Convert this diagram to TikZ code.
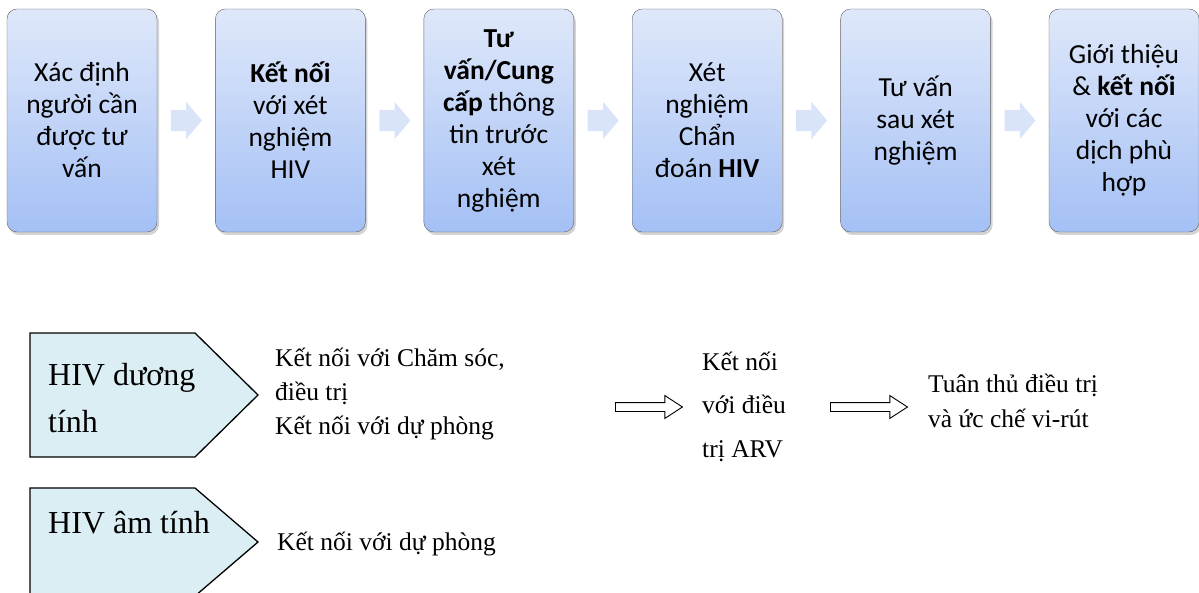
\documentclass[tikz,border=0pt]{standalone}
\usepackage{fontspec}
\setmainfont{Liberation Serif}
\newfontfamily\boxfont{Carlito}
\usetikzlibrary{positioning,shapes.arrows,shadows,calc}
\definecolor{boxtop}{RGB}{223,232,250}
\definecolor{boxbot}{RGB}{164,192,245}
\definecolor{boxline}{RGB}{95,95,95}
\definecolor{flowblue}{RGB}{218,228,249}
\definecolor{tagblue}{RGB}{219,238,243}

\begin{document}
\begin{tikzpicture}[
        x=1pt, y=-1pt,
        stepbox/.style={draw=boxline, rounded corners=10pt, top color=boxtop, bottom color=boxbot,
            minimum width=150pt, minimum height=223pt, inner sep=2pt, text width=146pt, align=flush center,
            font=\boxfont\fontsize{27.5}{32}\selectfont,
            drop shadow={shadow xshift=2pt, shadow yshift=-3pt, opacity=0.35}},
        flowarr/.style={single arrow, fill=flowblue, inner xsep=0pt, inner ysep=10.5pt,
            single arrow head extend=8pt, single arrow tip angle=100, minimum height=31pt, anchor=tail},
        hollowarr/.style={single arrow, draw, fill=white, line width=0.9pt, inner xsep=0pt, inner ysep=4pt,
            single arrow head extend=7pt, single arrow tip angle=66, anchor=tail},
        tag/.style={draw, fill=tagblue, line width=1.3pt},
        tagtext/.style={inner sep=0pt, anchor=base west, align=left, font=\fontsize{32}{47}\selectfont},
        note/.style={inner sep=0pt, anchor=base west, align=left, font=\fontsize{25.5}{34}\selectfont},
        node distance = 58pt,
    ]
    \clip (0,0) rectangle (1199,593);

    \node[stepbox](b1) at (82,120.5) {Xác định\\người cần\\được tư\\vấn};
    \node[stepbox, right=of b1](b2) {\textbf{Kết nối}\\với xét\\nghiệm\\HIV};
    \node[stepbox, right=of b2](b3) {\textbf{Tư}\\\textbf{vấn/Cung}\\\textbf{cấp} thông\\tin trước\\xét\\nghiệm};
    \node[stepbox, right=of b3](b4) {Xét\\nghiệm\\Chẩn\\đoán \textbf{HIV}};
    \node[stepbox, right=of b4](b5) {Tư vấn\\sau xét\\nghiệm};
    \node[stepbox, right=of b5](b6) {Giới thiệu\\\& \textbf{kết nối}\\với các\\dịch phù\\hợp};

    \foreach \a/\b in {b1/b2, b2/b3, b3/b4, b4/b5, b5/b6}
        \node[flowarr, xshift=-15.5pt](f-\a) at ($(\a.east)!0.5!(\b.west)$) {};

    \draw[tag] (30,333) -- (195,333) -- (258,395) -- (195,457) -- (30,457) -- cycle;
    \draw[tag] (30,488) -- (195,488) -- (258,542) -- (195,596) -- (30,596) -- cycle;

    \node[tagtext](pos) at (48,432) {HIV dương\\tính};
    \node[tagtext](neg) at (48,533) {HIV âm tính};

    \node[note](posnext) at (275,434) {Kết nối với Chăm sóc,\\điều trị\\Kết nối với dự phòng};
    \node[note](negnext) at (277,550) {Kết nối với dự phòng};
    \node[note, font=\fontsize{25.5}{43.5}\selectfont](arv) at (702,457) {Kết nối\\với điều\\trị ARV};
    \node[note, font=\fontsize{25.5}{35}\selectfont](adh) at (928,427) {Tuân thủ điều trị\\và ức chế vi-rút};

    \node[hollowarr, minimum height=67pt](h1) at (615,407) {};
    \node[hollowarr, minimum height=77pt](h2) at (830,407) {};
\end{tikzpicture}
\end{document}
